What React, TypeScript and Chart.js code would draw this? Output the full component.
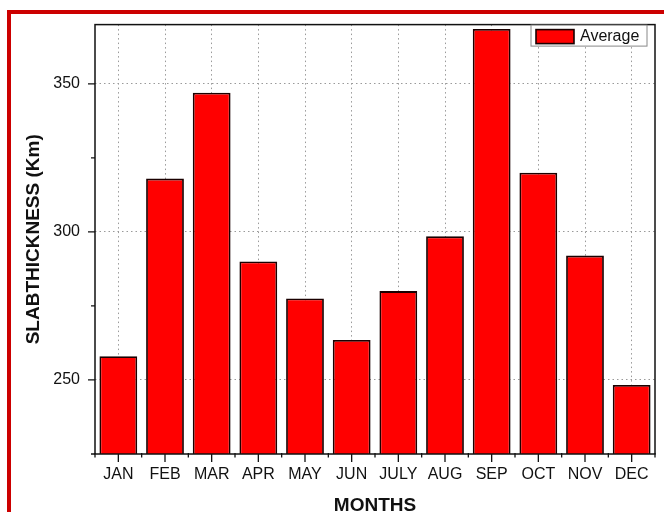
import React, { useEffect, useRef } from "react";
import { Chart, registerables } from "chart.js";

Chart.register(...registerables);

const months = ["JAN", "FEB", "MAR", "APR", "MAY", "JUN", "JULY", "AUG", "SEP", "OCT", "NOV", "DEC"];
const averageSlab = [258, 318, 347, 290, 277.5, 263.5, 280, 298.5, 368.5, 320, 292, 248.3];
const yTickValues = [225, 250, 275, 300, 325, 350];
const yMajorTicks = [250, 300, 350];
const seriesLabel = "Average";
const xTitle = "MONTHS";
const yTitle = "SLABTHICKNESS (Km)";

const FONT = "'Liberation Sans', Arial, sans-serif";
const BAR_RED = "#ff0000";
const BAR_EDGE = "#1a0000";

const framePlugin = {
  id: "frameTicksLegend",
  afterDatasetsDraw(chart: any) {
    const { ctx, chartArea } = chart;
    const xs = chart.scales.x;
    const ys = chart.scales.y;
    ctx.save();
    // frame
    ctx.strokeStyle = "#111";
    ctx.lineWidth = 1.5;
    ctx.strokeRect(chartArea.left, chartArea.top, chartArea.right - chartArea.left, chartArea.bottom - chartArea.top);

    // x ticks
    ctx.lineWidth = 1.3;
    ctx.beginPath();
    for (let i = 0; i < months.length; i++) {
      const c = xs.getPixelForValue(i);
      ctx.moveTo(c, chartArea.bottom);
      ctx.lineTo(c, chartArea.bottom + 8);
    }
    for (let i = 0; i <= months.length; i++) {
      const b = xs.getPixelForValue(i - 0.5);
      ctx.moveTo(b, chartArea.bottom - 1);
      ctx.lineTo(b, chartArea.bottom + 3.5);
    }
    // y ticks
    for (const v of yTickValues) {
      const p = ys.getPixelForValue(v);
      const major = yMajorTicks.includes(v);
      ctx.moveTo(chartArea.left, p);
      ctx.lineTo(chartArea.left - (major ? 7 : 4), p);
    }
    ctx.stroke();

    // legend
    const ds = chart.data.datasets[0];
    const bw = 116;
    const bh = 21;
    const lx = chartArea.right - 8 - bw;
    const ly = chartArea.top + 0.5;
    ctx.fillStyle = "#fff";
    ctx.fillRect(lx, ly, bw, bh);
    ctx.strokeStyle = "#888";
    ctx.lineWidth = 1;
    ctx.strokeRect(lx, ly, bw, bh);
    ctx.fillStyle = ds.backgroundColor;
    ctx.fillRect(lx + 5, ly + 4.5, 38, 14);
    ctx.strokeStyle = BAR_EDGE;
    ctx.lineWidth = 1.6;
    ctx.strokeRect(lx + 5, ly + 4.5, 38, 14);
    ctx.fillStyle = "#111";
    ctx.font = `16px ${FONT}`;
    ctx.textBaseline = "middle";
    ctx.textAlign = "left";
    ctx.fillText(ds.label, lx + 49, ly + bh / 2 + 1);
    ctx.restore();
  },
};

export default function App() {
  const ref = useRef<HTMLCanvasElement | null>(null);

  useEffect(() => {
    if (!ref.current) return;
    const chart = new Chart(ref.current, {
      type: "bar",
      data: {
        labels: months,
        datasets: [
          {
            label: seriesLabel,
            data: averageSlab,
            backgroundColor: BAR_RED,
            borderColor: BAR_EDGE,
            borderWidth: 1.8,
            categoryPercentage: 1,
            barPercentage: 0.81,
          },
        ],
      },
      options: {
        responsive: false,
        animation: false,
        devicePixelRatio: 1,
        layout: { padding: { left: 0, right: 9, top: 22, bottom: 0 } },
        plugins: {
          legend: { display: false },
          tooltip: { enabled: false },
        },
        scales: {
          x: {
            offset: true,
            grid: {
              offset: false,
              drawTicks: false,
              color: "#9a9a9a",
              lineWidth: 1,
            },
            border: { display: false, dash: [1.5, 3] },
            ticks: {
              color: "#111",
              font: { family: FONT, size: 16 },
              padding: 11,
              maxRotation: 0,
              autoSkip: false,
            },
            title: {
              display: true,
              text: xTitle,
              color: "#111",
              font: { family: FONT, size: 19, weight: "bold", lineHeight: 0.62 },
              padding: 0,
            },
            afterFit(scale: any) {
              scale.height = 58;
            },
          },
          y: {
            min: 225,
            max: 370,
            grid: {
              drawTicks: false,
              color: (c: any) => (c.tick && c.tick.value % 50 === 0 ? "#9a9a9a" : "rgba(0,0,0,0)"),
              lineWidth: 1,
            },
            border: { display: false, dash: [1.5, 3] },
            ticks: {
              stepSize: 25,
              color: "#111",
              font: { family: FONT, size: 16 },
              padding: 15,
              callback: (v: any) => (Number(v) % 50 === 0 ? String(v) : ""),
            },
            title: {
              display: true,
              text: yTitle,
              color: "#111",
              font: { family: FONT, size: 19, weight: "bold", lineHeight: 1 },
              padding: { top: 24, bottom: 0 },
            },
            afterFit(scale: any) {
              scale.width = 95;
            },
          },
        },
      },
      plugins: [framePlugin],
    });
    return () => chart.destroy();
  }, []);

  return (
    <div
      style={{
        position: "fixed",
        left: 0,
        top: 0,
        width: 664,
        height: 512,
        overflow: "hidden",
        background: "#fff",
      }}
    >
      <div
        style={{
          position: "absolute",
          left: 7,
          top: 10,
          width: 700,
          height: 600,
          borderLeft: "4px solid #cc0000",
          borderTop: "4px solid #cc0000",
          boxSizing: "border-box",
        }}
      />
      <canvas ref={ref} width={664} height={512} style={{ position: "absolute", left: 0, top: 0, width: 664, height: 512 }} />
    </div>
  );
}
